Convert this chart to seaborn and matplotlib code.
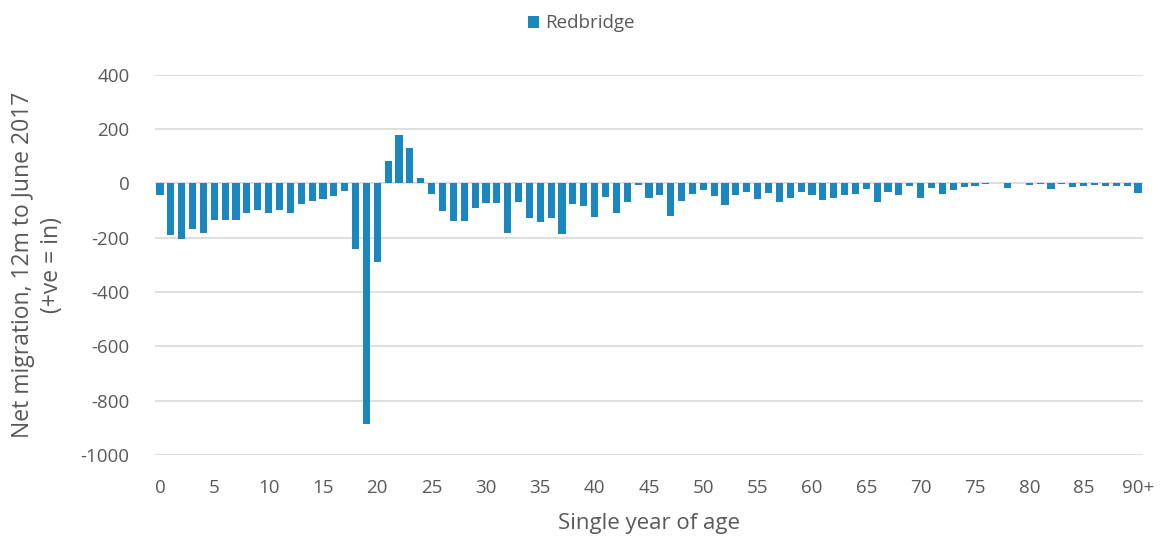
import matplotlib
matplotlib.use("Agg")
import matplotlib.pyplot as plt
import seaborn as sns
import pandas as pd

ages = list(range(91))
tick_labels = ["0", "5", "10", "15", "20", "25", "30", "35", "40", "45",
               "50", "55", "60", "65", "70", "75", "80", "85", "90+"]
net_migration = [
    -43, -190, -204, -169, -183, -136, -135, -135, -107, -96,
    -110, -99, -109, -74, -65, -58, -46, -26, -242, -885,
    -290, 83, 178, 132, 20, -40, -102, -139, -137, -92,
    -72, -73, -182, -68, -127, -141, -128, -186, -75, -84,
    -123, -51, -110, -69, -5, -54, -41, -121, -63, -39,
    -23, -46, -81, -43, -31, -57, -35, -67, -53, -33,
    -43, -60, -53, -44, -38, -22, -69, -32, -42, -11,
    -53, -17, -38, -23, -12, -9, -3, 0, -17, 0,
    -5, -3, -20, -2, -14, -10, -5, -10, -10, -10,
    -35,
]
series_name = "Redbridge"

df = pd.DataFrame({"age": ages, "value": net_migration})

sns.set_theme(style="white")
plt.rcParams["font.family"] = ["Open Sans", "DejaVu Sans"]

text_color = "#595959"
bar_color = "#1A87BF"
grid_color = "#D9D9D9"

fig = plt.figure(figsize=(11.62, 5.38), dpi=100)
ax = fig.add_axes([0.133, 0.154, 0.851, 0.707])

sns.barplot(data=df, x="age", y="value", order=ages, color=bar_color,
            width=0.66, saturation=1, linewidth=0, label=series_name,
            ax=ax, zorder=3)

ax.set_ylim(-1000, 400)
ax.set_yticks(range(-1000, 401, 200))
ax.set_yticklabels([str(v) for v in range(-1000, 401, 200)])
ax.set_xlim(-0.5, 90.5)
ax.set_xticks(list(range(0, 91, 5)))
ax.set_xticklabels(tick_labels)

ax.grid(axis="y", color=grid_color, linewidth=1.2, zorder=0)
ax.set_axisbelow(True)
for s in ax.spines.values():
    s.set_visible(False)
ax.tick_params(axis="both", length=0, labelsize=13.5, colors=text_color)
ax.tick_params(axis="x", pad=17)
ax.tick_params(axis="y", pad=18)

ax.set_xlabel("Single year of age", fontsize=16, color=text_color, labelpad=12)
ax.set_ylabel("Net migration, 12m to June 2017\n(+ve = in)", fontsize=16.5,
              color=text_color, labelpad=12, linespacing=1.25)

leg = ax.legend(loc="upper center", bbox_to_anchor=(0.5, 1.005),
                bbox_transform=fig.transFigure, frameon=False,
                fontsize=13.5, handlelength=0.6, handleheight=0.6,
                handletextpad=0.3)
for t in leg.get_texts():
    t.set_color(text_color)

fig.savefig("out.png", dpi=100)
